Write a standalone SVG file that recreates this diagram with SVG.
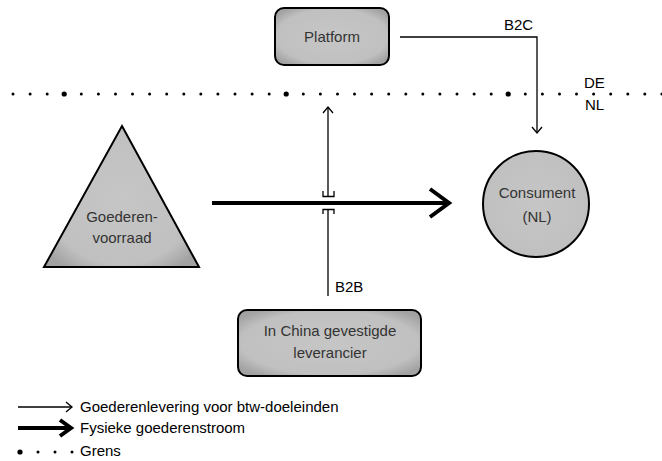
<svg xmlns="http://www.w3.org/2000/svg" width="662" height="461" viewBox="0 0 662 461">
<defs>
<radialGradient id="g" cx="0.5" cy="0.5" r="0.62">
<stop offset="0" stop-color="#c6c6c6"/>
<stop offset="0.78" stop-color="#c0c0c0"/>
<stop offset="1" stop-color="#a2a2a2"/>
</radialGradient>
<marker id="thin" markerWidth="12" markerHeight="12" refX="10" refY="6" orient="auto" markerUnits="userSpaceOnUse">
<path d="M4,1 L10,6 L4,11" fill="none" stroke="#000" stroke-width="1.3"/>
</marker>
</defs>
<style>
.n{fill:url(#g);stroke:#000;stroke-width:2}
.t{font-family:"Liberation Sans",Arial,sans-serif;font-size:15px;fill:#333}
.l{font-family:"Liberation Sans",Arial,sans-serif;font-size:15px;fill:#000}
.c{text-anchor:middle}
.thin{fill:none;stroke:#000;stroke-width:1.3}
.thick{fill:none;stroke:#000;stroke-width:4}
</style>
<g id="border">
<g fill="#000">
<circle cx="13" cy="94" r="1.5"/><circle cx="30.1" cy="94" r="1.5"/><circle cx="47.2" cy="94" r="1.5"/><circle cx="64.2" cy="94" r="2.6"/><circle cx="81.3" cy="94" r="1.5"/><circle cx="98.4" cy="94" r="1.5"/><circle cx="115.5" cy="94" r="1.5"/><circle cx="132.5" cy="94" r="1.5"/><circle cx="149.6" cy="94" r="1.5"/><circle cx="166.7" cy="94" r="1.5"/><circle cx="183.8" cy="94" r="1.5"/><circle cx="200.8" cy="94" r="1.5"/><circle cx="217.9" cy="94" r="1.5"/><circle cx="235" cy="94" r="1.5"/><circle cx="252.1" cy="94" r="1.5"/><circle cx="269.2" cy="94" r="1.5"/><circle cx="286.2" cy="94" r="2.6"/><circle cx="303.3" cy="94" r="1.5"/><circle cx="320.4" cy="94" r="1.5"/><circle cx="337.5" cy="94" r="1.5"/><circle cx="354.5" cy="94" r="1.5"/><circle cx="371.6" cy="94" r="1.5"/><circle cx="388.7" cy="94" r="1.5"/><circle cx="405.8" cy="94" r="1.5"/><circle cx="422.8" cy="94" r="1.5"/><circle cx="439.9" cy="94" r="1.5"/><circle cx="457" cy="94" r="1.5"/><circle cx="474.1" cy="94" r="1.5"/><circle cx="491.2" cy="94" r="1.5"/><circle cx="508.2" cy="94" r="2.6"/><circle cx="525.3" cy="94" r="1.5"/><circle cx="542.4" cy="94" r="1.5"/><circle cx="559.5" cy="94" r="1.5"/><circle cx="576.5" cy="94" r="1.5"/><circle cx="593.6" cy="94" r="1.5"/><circle cx="610.7" cy="94" r="1.5"/><circle cx="627.8" cy="94" r="1.5"/><circle cx="644.8" cy="94" r="1.5"/><circle cx="661.9" cy="94" r="1.5"/>
</g>
<text class="l" x="584" y="88">DE</text>
<text class="l" x="585" y="110">NL</text>
</g>
<g id="connectors">
<path class="thin" d="M400,37 H537 V133" marker-end="url(#thin)"/>
<text class="l" x="504" y="30">B2C</text>
<path class="thin" d="M328,196 V107" marker-end="url(#thin)"/>
<path class="thin" d="M323,191 V196.5 H334 V191"/>
<path class="thin" d="M323,214 V209.5 H334 V214"/>
<path class="thin" d="M328,209.5 V296"/>
<text class="l" x="335" y="292">B2B</text>
<path class="thick" d="M212,203 H448"/>
<path class="thick" d="M430,189 L449,203 L430,217" stroke-linejoin="miter"/>
</g>
<g id="platform">
<rect class="n" x="275" y="8" width="114" height="57" rx="9"/>
<text class="t c" x="332" y="42">Platform</text>
</g>
<g id="voorraad">
<path class="n" d="M122,126 L199,267 L44,267 Z" stroke-linejoin="miter"/>
<text class="t c" x="122" y="222">Goederen-</text>
<text class="t c" x="122" y="243">voorraad</text>
</g>
<g id="consument">
<circle class="n" cx="536" cy="204" r="53"/>
<text class="t c" x="537" y="198">Consument</text>
<text class="t c" x="537" y="222">(NL)</text>
</g>
<g id="leverancier">
<rect class="n" x="238" y="310" width="183" height="66" rx="9"/>
<text class="t c" x="330" y="336">In China gevestigde</text>
<text class="t c" x="330" y="358">leverancier</text>
</g>
<g id="legend">
<path class="thin" d="M18,407 H72" marker-end="url(#thin)"/>
<text class="l" x="80" y="412">Goederenlevering voor btw-doeleinden</text>
<path class="thick" d="M18,428 H70"/>
<path class="thick" d="M60,420 L71,428 L60,436"/>
<text class="l" x="80" y="433">Fysieke goederenstroom</text>
<circle cx="20" cy="452" r="2.6"/><circle cx="38" cy="452" r="1.5"/><circle cx="55" cy="452" r="1.5"/><circle cx="72" cy="452" r="1.5"/>
<text class="l" x="80" y="456">Grens</text>
</g>
</svg>
